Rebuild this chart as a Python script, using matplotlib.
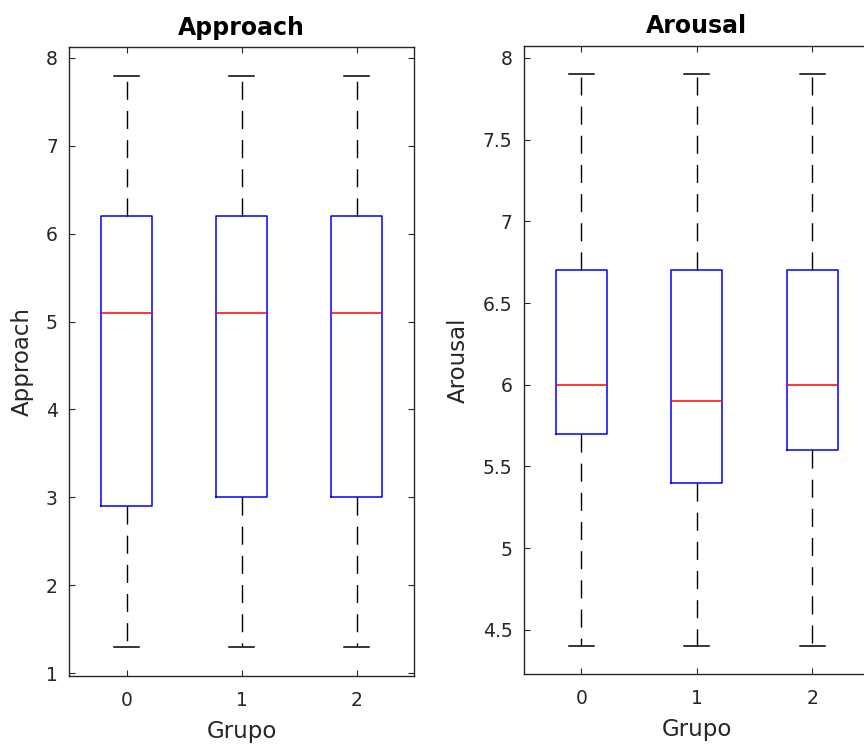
import matplotlib
matplotlib.use("Agg")
import matplotlib.pyplot as plt

plt.rcParams['font.family'] = ['DejaVu Sans']
plt.rcParams['lines.scale_dashes'] = False

groups = [0, 1, 2]

# Approach: per-group box statistics
approach_whislo = [1.3, 1.3, 1.3]
approach_q1 = [2.9, 3.0, 3.0]
approach_med = [5.1, 5.1, 5.1]
approach_q3 = [6.2, 6.2, 6.2]
approach_whishi = [7.8, 7.8, 7.8]

# Arousal: per-group box statistics
arousal_whislo = [4.4, 4.4, 4.4]
arousal_q1 = [5.7, 5.4, 5.6]
arousal_med = [6.0, 5.9, 6.0]
arousal_q3 = [6.7, 6.7, 6.7]
arousal_whishi = [7.9, 7.9, 7.9]

approach_yticks = [1, 2, 3, 4, 5, 6, 7, 8]
arousal_yticks = [4.5, 5, 5.5, 6, 6.5, 7, 7.5, 8]
arousal_yticklabels = ['4.5', '5', '5.5', '6', '6.5', '7', '7.5', '8']

AX_COLOR = '#262626'


def make_stats(lo, q1, med, q3, hi):
    return [dict(whislo=a, q1=b, med=c, q3=d, whishi=e, fliers=[])
            for a, b, c, d, e in zip(lo, q1, med, q3, hi)]


def draw_panel(ax, stats, title, ylabel, ylim, yticks, yticklabels=None):
    ax.bxp(stats, positions=groups, widths=0.44, showfliers=False,
           boxprops=dict(color='blue', linewidth=1.1),
           medianprops=dict(color='red', linewidth=1.1),
           whiskerprops=dict(color='black', linewidth=1.0,
                             linestyle=(0, (13, 8))),
           capprops=dict(color='black', linewidth=1.1),
           capwidths=0.22, manage_ticks=False)
    ax.set_xlim(-0.5, 2.5)
    ax.set_ylim(*ylim)
    ax.set_xticks(groups)
    ax.set_xticklabels([str(g) for g in groups])
    ax.set_yticks(yticks)
    if yticklabels is not None:
        ax.set_yticklabels(yticklabels)
    ax.tick_params(direction='in', length=4, width=0.8, colors=AX_COLOR,
                   labelsize=13.5, top=True, right=True)
    ax.tick_params(axis='x', pad=11)
    ax.tick_params(axis='y', pad=8)
    for sp in ax.spines.values():
        sp.set_color(AX_COLOR)
        sp.set_linewidth(1.0)
    ax.set_title(title, fontsize=17, fontweight='bold', color='black', pad=9)
    ax.set_xlabel('Grupo', fontsize=16.5, color=AX_COLOR, labelpad=7)
    ax.set_ylabel(ylabel, fontsize=16.5, color=AX_COLOR, labelpad=9)


fig = plt.figure(figsize=(8.64, 7.45), dpi=100)
ax1 = fig.add_axes([69 / 864, 1 - 676 / 745, 345 / 864, 629 / 745])
ax2 = fig.add_axes([523.5 / 864, 1 - 674 / 745, 346.5 / 864, 628.3 / 745])

draw_panel(ax1,
           make_stats(approach_whislo, approach_q1, approach_med,
                      approach_q3, approach_whishi),
           'Approach', 'Approach', (0.966, 8.125), approach_yticks)
draw_panel(ax2,
           make_stats(arousal_whislo, arousal_q1, arousal_med,
                      arousal_q3, arousal_whishi),
           'Arousal', 'Arousal', (4.23, 8.075), arousal_yticks,
           arousal_yticklabels)

fig.savefig('out.png', dpi=100)
